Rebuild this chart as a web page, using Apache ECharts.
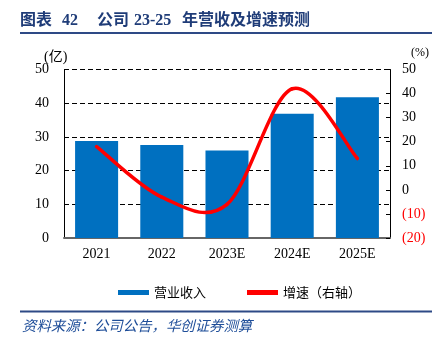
<!DOCTYPE html>
<html><head><meta charset="utf-8">
<script src="https://cdn.jsdelivr.net/npm/echarts@6/dist/echarts.min.js"></script>
<style>html,body{margin:0;padding:0;background:#fff;}#c{width:436px;height:338px;}</style>
</head><body><div id="c"></div>
<script>
const categories = ['2021', '2022', '2023E', '2024E', '2025E'];
const revenue = [28.8, 27.6, 26.0, 36.9, 41.8];
const growth = [18, -3, -6, 42, 13];
const leftTicks = [0, 10, 20, 30, 40, 50];
const rightTicks = [-20, -10, 0, 10, 20, 30, 40, 50];

const chart = echarts.init(document.getElementById('c'));
const serif = '"Liberation Serif", "Times New Roman", "Noto Sans CJK SC", serif';
const cjk = '"Noto Sans CJK SC", sans-serif';
const titleFont = 'bold 16px "Liberation Serif", "Noto Sans CJK SC", serif';
const titleColor = '#1F3C78';

// Excel-style smoothed segment between point i and i+1 (Catmull-Rom, tension 1/6)
function renderSeg(params, api) {
  const i = params.dataIndex;
  const n = growth.length;
  if (i >= n - 1) return null;
  const P = k => { const j = Math.max(0, Math.min(n - 1, k)); return api.coord([j, growth[j]]); };
  const p0 = P(i - 1), p1 = P(i), p2 = P(i + 1), p3 = P(i + 2);
  const c1 = [p1[0] + (p2[0] - p0[0]) / 6, p1[1] + (p2[1] - p0[1]) / 6];
  const c2 = [p2[0] - (p3[0] - p1[0]) / 6, p2[1] - (p3[1] - p1[1]) / 6];
  return {
    type: 'bezierCurve',
    shape: { x1: p1[0], y1: p1[1], x2: p2[0], y2: p2[1], cpx1: c1[0], cpy1: c1[1], cpx2: c2[0], cpy2: c2[1] },
    style: { stroke: '#FF0000', lineWidth: 3.5, fill: null, lineCap: 'round' }
  };
}

function titlePiece(text, x) {
  return { type: 'text', left: x, top: 13, style: { text: text, font: titleFont, fill: titleColor } };
}

chart.setOption({
  animation: false,
  graphic: [
    titlePiece('图表', 20),
    titlePiece('42', 62),
    titlePiece('公司', 97),
    titlePiece('23-25', 134),
    titlePiece('年营收及增速预测', 182),
    { type: 'rect', shape: { x: 20, y: 32, width: 412, height: 2 }, style: { fill: '#2E4A86' } },
    { type: 'rect', shape: { x: 20, y: 310.5, width: 412, height: 2 }, style: { fill: '#2E4A86' } },
    { type: 'text', left: 22, top: 318, style: { text: '资料来源：公司公告，华创证券测算', font: 'italic 14.4px "Noto Sans CJK SC", sans-serif', fill: '#1F4E99' } },
    { type: 'text', left: 44, top: 50, style: { text: '(亿)', font: '14px "Liberation Serif", "Noto Sans CJK SC", serif', fill: '#000' } },
    { type: 'text', left: 411, top: 47, style: { text: '(%)', font: '12px "Liberation Serif", serif', fill: '#000' } }
  ],
  legend: {
    left: 118, top: 286, padding: 0,
    itemWidth: 31, itemHeight: 5, itemGap: 41,
    textStyle: { fontFamily: cjk, fontSize: 13, color: '#000' },
    data: [
      { name: '营业收入', icon: 'rect', itemStyle: { color: '#0070C0' } },
      { name: '增速（右轴）', icon: 'rect', itemStyle: { color: '#FF0000' } }
    ]
  },
  grid: { left: 64, right: 46, top: 69.5, bottom: 100 },
  xAxis: {
    type: 'category', data: categories,
    axisLine: { lineStyle: { color: '#666', width: 2 } },
    axisTick: { show: false },
    axisLabel: { fontFamily: serif, fontSize: 14, color: '#000', margin: 9 }
  },
  yAxis: [
    {
      type: 'value', min: 0, max: 50, interval: 10,
      axisLine: { show: true, lineStyle: { color: '#000', width: 1 } },
      axisTick: { show: false },
      splitLine: { show: true, lineStyle: { color: '#000', type: [5, 3], width: 1.2 } },
      axisLabel: { fontFamily: serif, fontSize: 14, color: '#000', margin: 15,
        formatter: v => leftTicks.includes(v) ? String(v) : '' }
    },
    {
      type: 'value', min: -20, max: 50, interval: 10,
      axisLine: { show: true, lineStyle: { color: '#000', width: 1 } },
      axisTick: { show: true, inside: true, length: 4, lineStyle: { color: '#000' } },
      splitLine: { show: false },
      axisLabel: { fontFamily: serif, fontSize: 14, margin: 12,
        formatter: v => rightTicks.includes(v) ? (v < 0 ? '(' + (-v) + ')' : String(v)) : '',
        color: v => (Number(v) < 0 ? '#FF0000' : '#000') }
    }
  ],
  series: [
    { name: '营业收入', type: 'bar', data: revenue, barWidth: '66%', itemStyle: { color: '#0070C0' } },
    { name: '增速（右轴）', type: 'custom', yAxisIndex: 1, renderItem: renderSeg,
      data: growth.map((v, i) => [i, v]), encode: { x: 0, y: 1 }, itemStyle: { color: '#FF0000' }, z: 3 }
  ]
});
</script></body></html>
